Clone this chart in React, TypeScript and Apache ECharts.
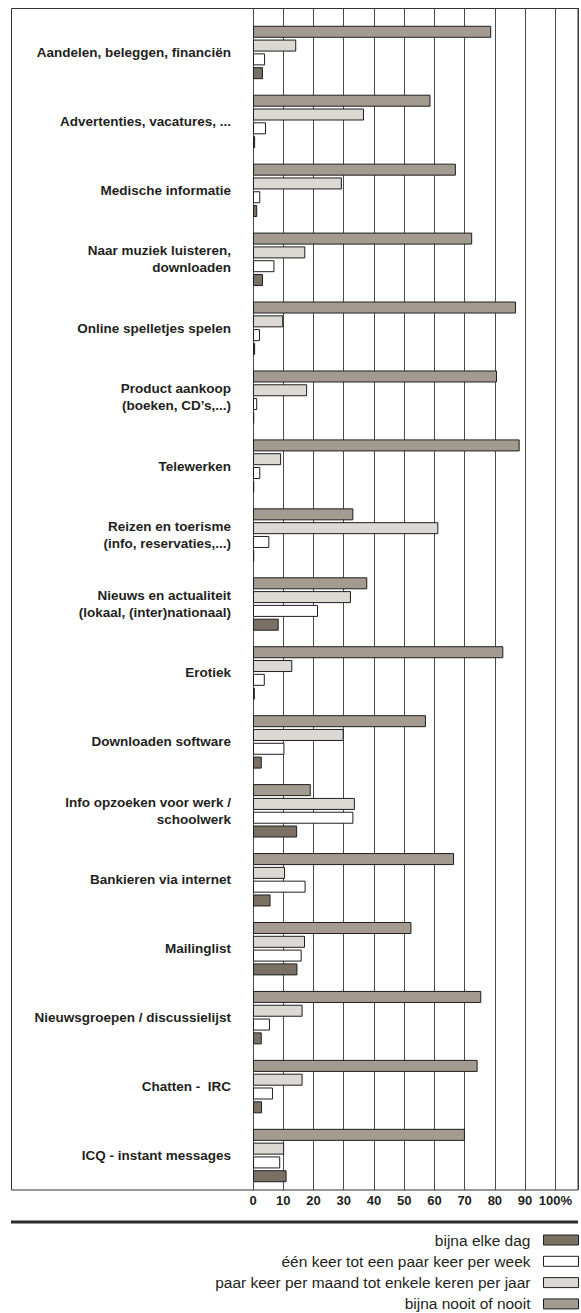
import React, { useEffect, useRef } from "react";
import * as echarts from "echarts";

const categories = [
  "Aandelen, beleggen, financiën",
  "Advertenties, vacatures, ...",
  "Medische informatie",
  "Naar muziek luisteren,\ndownloaden",
  "Online spelletjes spelen",
  "Product aankoop\n(boeken, CD’s,...)",
  "Telewerken",
  "Reizen en toerisme\n(info, reservaties,...)",
  "Nieuws en actualiteit\n(lokaal, (inter)nationaal)",
  "Erotiek",
  "Downloaden software",
  "Info opzoeken voor werk /\nschoolwerk",
  "Bankieren via internet",
  "Mailinglist",
  "Nieuwsgroepen / discussielijst",
  "Chatten -  IRC",
  "ICQ - instant messages",
];

const nooit = [78.8, 58.7, 67.1, 72.5, 87.0, 80.7, 88.2, 33.2, 37.8, 82.8, 57.2, 19.1, 66.5, 52.4, 75.5, 74.3, 70.1];
const maandJaar = [14.3, 36.7, 29.4, 17.3, 10.0, 17.9, 9.3, 61.3, 32.4, 13.0, 30.0, 33.7, 10.6, 17.2, 16.4, 16.4, 10.3];
const week = [4.0, 4.3, 2.4, 7.1, 2.3, 1.4, 2.4, 5.4, 21.5, 3.9, 10.4, 33.2, 17.4, 16.1, 5.6, 6.6, 9.0];
const dag = [3.3, 0.7, 1.4, 3.3, 0.7, 0.4, 0.4, 0.4, 8.5, 0.6, 2.9, 14.6, 5.8, 14.7, 2.9, 3.0, 11.1];

const nameNooit = "bijna nooit of nooit";
const nameMaand = "paar keer per maand tot enkele keren per jaar";
const nameWeek = "één keer tot een paar keer per week";
const nameDag = "bijna elke dag";

const legendOrder = [nameDag, nameWeek, nameMaand, nameNooit];

const xMin = 0;
const xMax = 107.5;
const xInterval = 10;

export default function App() {
  const ref = useRef<HTMLDivElement>(null);

  useEffect(() => {
    const chart = echarts.init(ref.current!, null, { renderer: "svg" });
    const font = '"Liberation Sans", Arial, sans-serif';
    const gridColor = "#4a4a4a";
    const textColor = "#231f20";
    const border = "#1e1e1e";

    const mkSeries = (name: string, data: number[], color: string) => ({
      name,
      type: "bar",
      xAxisIndex: 0,
      yAxisIndex: 0,
      data,
      barWidth: 12,
      barGap: "15%",
      itemStyle: { color, borderColor: border, borderWidth: 1 },
      emphasis: { disabled: true },
    });

    const option: any = {
      animation: false,
      backgroundColor: "#ffffff",
      grid: [
        { left: 253, width: 325, top: 18, bottom: 123, containLabel: false },
        { left: 253, width: 325, top: 8, height: 10, containLabel: false },
      ],
      xAxis: [
        {
          type: "value",
          gridIndex: 0,
          min: xMin,
          max: xMax,
          interval: xInterval,
          axisLine: { show: false },
          axisTick: { show: false },
          splitLine: { show: true, lineStyle: { color: gridColor, width: 1 } },
          axisLabel: {
            margin: 4,
            fontFamily: font,
            fontWeight: "bold",
            fontSize: 13,
            color: textColor,
            formatter: (v: number) => (v === 100 ? "100%" : v > 100 ? "" : String(v)),
          },
        },
        {
          type: "value",
          gridIndex: 1,
          min: xMin,
          max: xMax,
          interval: xInterval,
          axisLine: { show: false },
          axisTick: { show: false },
          axisLabel: { show: false },
          splitLine: { show: true, lineStyle: { color: gridColor, width: 1 } },
        },
      ],
      yAxis: [
        {
          type: "category",
          gridIndex: 0,
          data: categories,
          inverse: true,
          axisLine: { show: false },
          axisTick: { show: false },
          axisLabel: {
            margin: 22,
            fontFamily: font,
            fontWeight: "bold",
            fontSize: 13.5,
            lineHeight: 17,
            color: textColor,
            align: "right",
          },
        },
        {
          type: "category",
          gridIndex: 1,
          data: [""],
          show: false,
        },
      ],
      legend: {
        orient: "vertical",
        right: 2,
        top: 1232,
        height: 120,
        align: "right",
        padding: 0,
        itemWidth: 35,
        itemHeight: 10,
        itemGap: 5.3,
        icon: "rect",
        data: legendOrder,
        selectedMode: false,
        itemStyle: { borderColor: border, borderWidth: 1 },
        formatter: (n: string) => `{t|${n}}`,
        textStyle: {
          rich: {
            t: {
              fontFamily: font,
              fontSize: 15.5,
              lineHeight: 14,
              color: textColor,
              padding: [0, 8, 0, 0],
            },
          },
        },
      },
      graphic: [
        {
          type: "rect",
          shape: { x: 11.5, y: 8.5, width: 566.5, height: 1181.5 },
          style: { fill: "none", stroke: "#333333", lineWidth: 1 },
          silent: true,
          z: 10,
        },
        {
          type: "line",
          shape: { x1: 11, y1: 1222, x2: 578, y2: 1222 },
          style: { stroke: "#2b2b2b", lineWidth: 3 },
          silent: true,
        },
      ],
      series: [
        mkSeries(nameNooit, nooit, "#a49b90"),
        mkSeries(nameMaand, maandJaar, "#dcd8d3"),
        mkSeries(nameWeek, week, "#ffffff"),
        mkSeries(nameDag, dag, "#7a7164"),
      ],
    };

    chart.setOption(option);
    return () => chart.dispose();
  }, []);

  return (
    <div
      ref={ref}
      style={{ position: "absolute", left: 0, top: 0, width: 581, height: 1313 }}
    />
  );
}
